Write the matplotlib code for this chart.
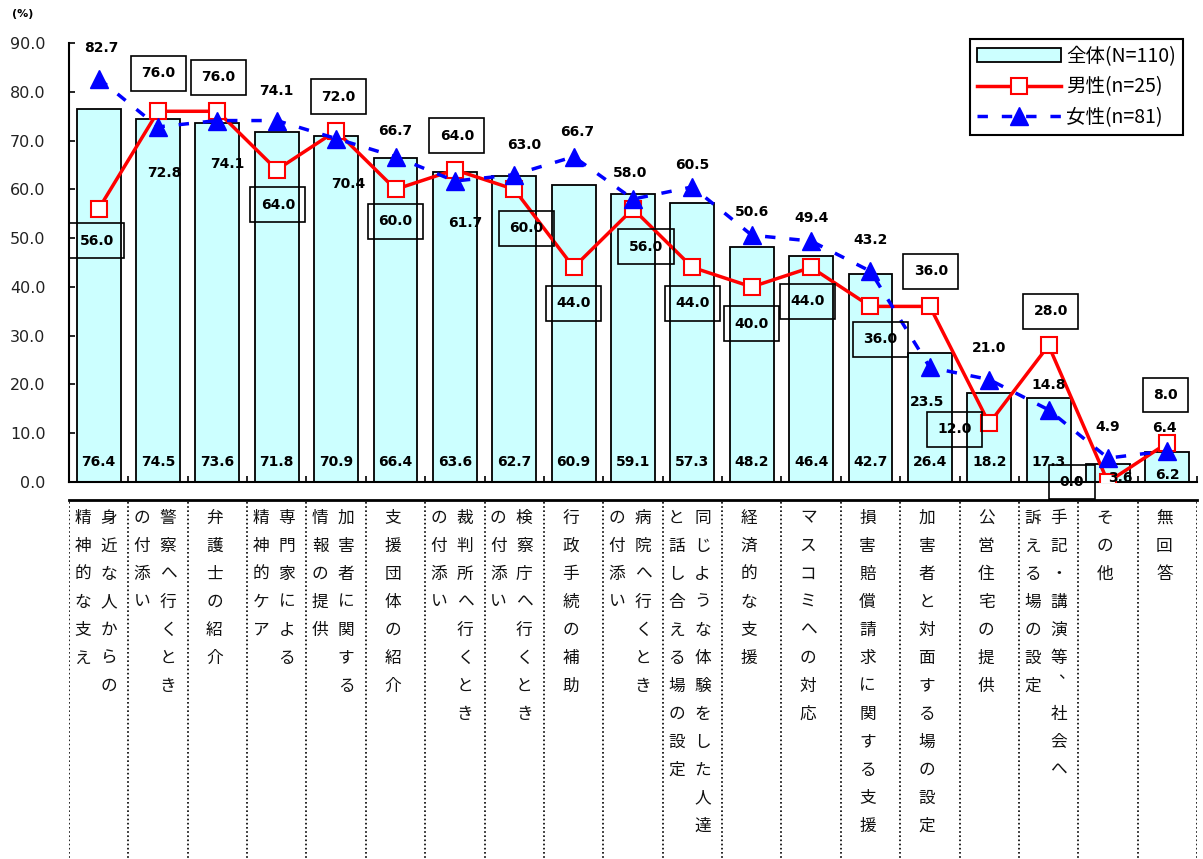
import matplotlib
matplotlib.use("Agg")
import matplotlib.pyplot as plt
import numpy as np

plt.rcParams["font.family"] = ["Noto Sans CJK JP", "DejaVu Sans"]

# ── data ─────────────────────────────────────────────────────────────────────
# each category label: (right column, left column) as written vertically
categories = [
    ("身近な人からの", "精神的な支え"),
    ("警察へ行くとき", "の付添い"),
    ("弁護士の紹介",),
    ("専門家による", "精神的ケア"),
    ("加害者に関する", "情報の提供"),
    ("支援団体の紹介",),
    ("裁判所へ行くとき", "の付添い"),
    ("検察庁へ行くとき", "の付添い"),
    ("行政手続の補助",),
    ("病院へ行くとき", "の付添い"),
    ("同じような体験をした人達", "と話し合える場の設定"),
    ("経済的な支援",),
    ("マスコミへの対応",),
    ("損害賠償請求に関する支援",),
    ("加害者と対面する場の設定",),
    ("公営住宅の提供",),
    ("手記・講演等、社会へ", "訴える場の設定"),
    ("その他",),
    ("無回答",),
]
total = [76.4, 74.5, 73.6, 71.8, 70.9, 66.4, 63.6, 62.7, 60.9, 59.1,
         57.3, 48.2, 46.4, 42.7, 26.4, 18.2, 17.3, 3.6, 6.2]
male = [56.0, 76.0, 76.0, 64.0, 72.0, 60.0, 64.0, 60.0, 44.0, 56.0,
        44.0, 40.0, 44.0, 36.0, 36.0, 12.0, 28.0, 0.0, 8.0]
female = [82.7, 72.8, 74.1, 74.1, 70.4, 66.7, 61.7, 63.0, 66.7, 58.0,
          60.5, 50.6, 49.4, 43.2, 23.5, 21.0, 14.8, 4.9, 6.4]
series_names = ["全体(N=110)", "男性(n=25)", "女性(n=81)"]
yticks = [0, 10, 20, 30, 40, 50, 60, 70, 80, 90]

# label offsets in pixels (dx, dy), placement only
off_male = [(-2, -32), (0, 38), (1, 34), (1, -35), (2, 34), (0, -32), (2, 34),
            (12, -39), (0, -36), (13, -38), (0, -36), (0, -37), (-4, -34),
            (10, -33), (1, 35), (-35, -6), (2, 34), (-36, 0), (-2, 48)]
off_female = [(3, 31), (6, -46), (10, -43), (0, 30), (12, -45), (0, 26),
              (10, -42), (10, 30), (4, 25), (-3, 26), (0, 22), (0, 23),
              (0, 23), (0, 31), (-3, -35), (0, 32), (0, 25), (0, 31), (-3, 23)]
off_total = [(0, 20)] * 17 + [(12, 4), (0, 7)]

C_BAR = "#CCFFFF"
C_MALE = "#FF0000"
C_FEMALE = "#0000FF"

W, H = 1203, 859
fig = plt.figure(figsize=(W / 100, H / 100), dpi=100)
fig.patch.set_facecolor("white")


def px_axes(l, t, r, b):
    return fig.add_axes([l / W, 1 - b / H, (r - l) / W, (b - t) / H])


ax = px_axes(69, 43, 1197, 482)
x = np.arange(len(total))
bars = ax.bar(x, total, width=0.74, color=C_BAR, edgecolor="black", linewidth=1.3,
              label=series_names[0], zorder=2)
l_male, = ax.plot(x, male, color=C_MALE, lw=2.5, marker="s", ms=12, mfc="white",
                  mec=C_MALE, mew=1.5, label=series_names[1], zorder=3)
l_fem, = ax.plot(x, female, color=C_FEMALE, lw=2.5, ls=(0, (3, 4)), marker="^", ms=13,
                 mfc=C_FEMALE, mec=C_FEMALE, label=series_names[2], zorder=4)

ax.set_xlim(-0.5, len(total) - 0.5)
ax.set_ylim(0, 90)
ax.set_yticks(yticks)
ax.set_yticklabels([f"{v:.1f}" for v in yticks], fontsize=11.5,
                   family="DejaVu Sans", color="#222222")
ax.set_xticks([])
ax.set_xticks(np.arange(-0.5, len(total)), minor=True)
ax.tick_params(axis="y", direction="in", length=4, width=1.2, pad=17)
ax.tick_params(axis="x", which="minor", direction="in", length=4, width=1.2)
for s in ("top", "right"):
    ax.spines[s].set_visible(False)
for s in ("left", "bottom"):
    ax.spines[s].set_linewidth(1.5)

num_kw = dict(fontsize=10, fontweight="bold", family="DejaVu Sans",
              ha="center", va="center", textcoords="offset pixels", zorder=6)
for i in range(len(total)):
    ax.annotate(f"{total[i]:.1f}", (x[i], 0), xytext=off_total[i], **num_kw)
    ax.annotate(f"{male[i]:.1f}", (x[i], male[i]), xytext=off_male[i],
                bbox=dict(boxstyle="square,pad=0.75", fc="none", ec="black", lw=1.2),
                **num_kw)
    ax.annotate(f"{female[i]:.1f}", (x[i], female[i]), xytext=off_female[i], **num_kw)

leg = ax.legend([bars, l_male, l_fem], series_names,
                loc="upper right", bbox_to_anchor=(1183 / W, 1 - 39 / H),
                bbox_transform=fig.transFigure, fancybox=False, framealpha=1,
                edgecolor="black", fontsize=14, handlelength=4.3,
                labelspacing=0.5, borderpad=0.35, handletextpad=0.3,
                borderaxespad=0)
leg.get_frame().set_linewidth(1.5)

fig.text(12 / W, 1 - 14 / H, "(%)", fontsize=8, fontweight="bold",
         family="DejaVu Sans", va="center")

# ── category label table ─────────────────────────────────────────────────────
lab = px_axes(69, 500, 1197, 859)
lab.set_xlim(-0.5, len(total) - 0.5)
lab.set_ylim(359, 0)
lab.axis("off")
lab.axhline(0, color="black", lw=2, clip_on=False)
lab.vlines(np.arange(-0.5, len(total)), 2, 359, colors="black",
           linestyles=(0, (1, 1.5)), lw=1.2)

unit = 1128 / len(total)  # pixels per category
for i, cols in enumerate(categories):
    if len(cols) == 1:
        xs = [i - 3 / unit]
    else:
        xs = [i + 10 / unit, i - 16 / unit]
    for xc, col in zip(xs, cols):
        for j, ch in enumerate(col):
            dx, dy = 0, 0
            if ch == "、":
                dx, dy = 8 / unit, -12
            lab.text(xc + dx, 18 + 28 * j + dy, ch, ha="center", va="center",
                     fontsize=12, color="#111111")

fig.savefig("out.png", dpi=100, facecolor="white")
